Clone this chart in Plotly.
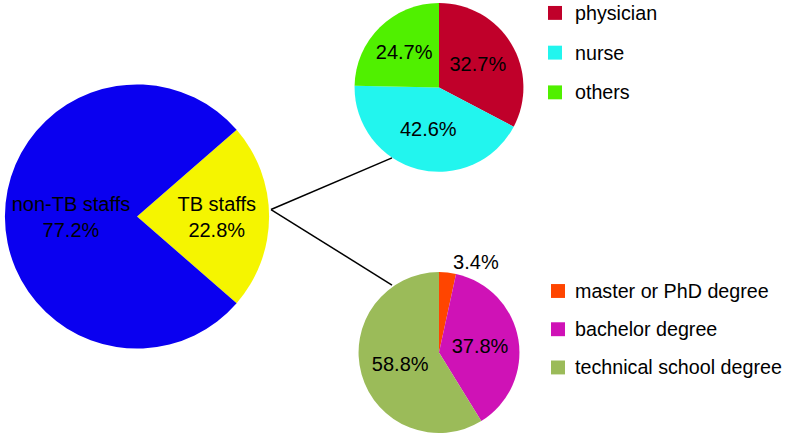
import plotly.graph_objects as go

# staff composition
staff_labels = ["TB staffs", "non-TB staffs"]
staff_values = [22.8, 77.2]
staff_colors = ["#F5F500", "#0A00F0"]

# TB staff profession
prof_labels = ["physician", "nurse", "others"]
prof_values = [32.7, 42.6, 24.7]
prof_colors = ["#C0002A", "#22F5EE", "#50F000"]

# TB staff education
edu_labels = ["master or PhD degree", "bachelor degree", "technical school degree"]
edu_values = [3.4, 37.8, 58.8]
edu_colors = ["#FF4500", "#CF12B6", "#9BBB59"]

W, H = 787, 438
FONT = "Liberation Sans, Arial, sans-serif"


def dom(cx, cy, r):
    return dict(x=[(cx - r) / W, (cx + r) / W], y=[(H - cy - r) / H, (H - cy + r) / H])


fig = go.Figure()

fig.add_trace(go.Pie(
    labels=staff_labels, values=staff_values, sort=False,
    direction="clockwise", rotation=90 - staff_values[0] * 3.6 / 2,
    marker=dict(colors=staff_colors, line=dict(width=0)),
    texttemplate="%{label}<br>%{value:.1f}%", textposition="inside",
    insidetextorientation="horizontal",
    textfont=dict(size=20, color="black", family=FONT),
    domain=dom(137, 218, 133), showlegend=False, hoverinfo="label+value",
))

fig.add_trace(go.Pie(
    labels=prof_labels, values=prof_values, sort=False,
    direction="clockwise", rotation=0,
    marker=dict(colors=prof_colors, line=dict(width=0)),
    texttemplate="%{value:.1f}%", textposition="inside",
    insidetextorientation="horizontal",
    textfont=dict(size=20, color="black", family=FONT),
    domain=dom(439, 88, 85), showlegend=False,
))

fig.add_trace(go.Pie(
    labels=edu_labels, values=edu_values, sort=False,
    direction="clockwise", rotation=0,
    marker=dict(colors=edu_colors, line=dict(width=0)),
    texttemplate="%{value:.1f}%", textposition=["outside", "inside", "inside"],
    insidetextorientation="horizontal",
    textfont=dict(size=20, color="black", family=FONT),
    domain=dom(439, 355, 81), showlegend=False,
))

# connector lines from the TB slice to the two breakdown pies
for y_end in (159, 287):
    fig.add_shape(type="line", xref="paper", yref="paper",
                  x0=271 / W, y0=(H - 211) / H, x1=392 / W, y1=(H - y_end) / H,
                  line=dict(color="black", width=1.5))

# hand-made legends
def legend(labels, colors, x_sq, y0, gap, x_txt):
    for i, (lab, col) in enumerate(zip(labels, colors)):
        yc = y0 + i * gap
        fig.add_shape(type="rect", xref="paper", yref="paper",
                      x0=x_sq / W, x1=(x_sq + 14) / W,
                      y0=(H - yc - 7) / H, y1=(H - yc + 7) / H,
                      fillcolor=col, line=dict(width=0))
        fig.add_annotation(text=lab, xref="paper", yref="paper",
                           x=x_txt / W, y=(H - yc) / H, xanchor="left", yanchor="middle",
                           showarrow=False, font=dict(size=19.7, color="black", family=FONT))


legend(prof_labels, prof_colors, 548, 13, 40, 573)
legend(edu_labels, edu_colors, 551, 293, 38.5, 573)

fig.update_layout(width=W, height=H, margin=dict(l=0, r=0, t=0, b=0),
                  paper_bgcolor="white", plot_bgcolor="white")

fig.write_html("out.html", config={"displayModeBar": False},
               post_script="document.body.style.margin='0';document.body.style.overflow='hidden';")
